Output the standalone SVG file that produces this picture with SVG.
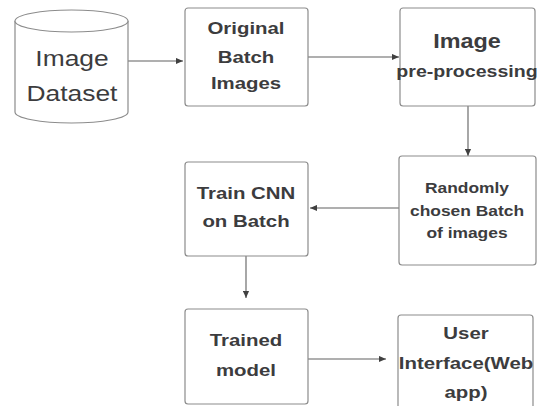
<svg xmlns="http://www.w3.org/2000/svg" width="540" height="406" viewBox="0 0 540 406">
  <style>
    .box { fill: #ffffff; stroke: #8c8c8c; stroke-width: 1.2; }
    .wire { fill: none; stroke: #606060; stroke-width: 1.1; }
    .lbl { font-family: "Liberation Sans", Arial, sans-serif; font-weight: bold; fill: #3c3c3e; text-anchor: middle; }
    .reg { font-family: "Liberation Sans", Arial, sans-serif; fill: #3c3c3e; text-anchor: middle; }
  </style>
  <defs>
    <marker id="arrow" viewBox="0 0 8 8" refX="8" refY="4" markerWidth="7" markerHeight="7" markerUnits="userSpaceOnUse" orient="auto">
      <path d="M0,0.5 L8,4 L0,7.5 Z" fill="#404040"/>
    </marker>
  </defs>
  <rect width="540" height="406" fill="#ffffff"/>

  <!-- connectors -->
  <g id="connectors">
    <line class="wire" x1="128" y1="61" x2="183" y2="61" marker-end="url(#arrow)"/>
    <line class="wire" x1="308" y1="57" x2="399" y2="57" marker-end="url(#arrow)"/>
    <line class="wire" x1="468" y1="106" x2="468" y2="156" marker-end="url(#arrow)"/>
    <line class="wire" x1="399" y1="208" x2="310" y2="208" marker-end="url(#arrow)"/>
    <line class="wire" x1="246" y1="256" x2="246" y2="298" marker-end="url(#arrow)"/>
    <line class="wire" x1="308" y1="359" x2="386" y2="359" marker-end="url(#arrow)"/>
  </g>

  <!-- cylinder: data store -->
  <g id="image-dataset">
    <path class="box" d="M15,21 L15,112 A56.5,11 0 0 0 128,112 L128,21"/>
    <ellipse class="box" cx="71.5" cy="21" rx="56.5" ry="11"/>
    <text class="reg" font-size="22" transform="translate(72,66) scale(1.2 1)">Image</text>
    <text class="reg" font-size="22" transform="translate(72,101) scale(1.2 1)">Dataset</text>
  </g>

  <g id="original-batch">
    <rect class="box" x="185" y="8" width="123" height="98" rx="3"/>
    <text class="lbl" font-size="17" transform="translate(246,34) scale(1.2 1)">Original</text>
    <text class="lbl" font-size="17" transform="translate(246,63) scale(1.2 1)">Batch</text>
    <text class="lbl" font-size="17" transform="translate(246,89) scale(1.2 1)">Images</text>
  </g>

  <g id="preprocessing">
    <rect class="box" x="400" y="8" width="135" height="98" rx="3"/>
    <text class="lbl" font-size="19.5" transform="translate(467,48) scale(1.2 1)">Image</text>
    <text class="lbl" font-size="16.3" transform="translate(467,77) scale(1.2 1)">pre-processing</text>
  </g>

  <g id="random-batch">
    <rect class="box" x="399" y="156" width="137" height="109" rx="3"/>
    <text class="lbl" font-size="14.5" transform="translate(467,193) scale(1.2 1)">Randomly</text>
    <text class="lbl" font-size="14.5" transform="translate(467,216) scale(1.2 1)">chosen Batch</text>
    <text class="lbl" font-size="14.5" transform="translate(467,238) scale(1.2 1)">of images</text>
  </g>

  <g id="train-cnn">
    <rect class="box" x="185" y="162" width="123" height="94" rx="3"/>
    <text class="lbl" font-size="17" transform="translate(246,199) scale(1.2 1)">Train CNN</text>
    <text class="lbl" font-size="17" transform="translate(246,227) scale(1.2 1)">on Batch</text>
  </g>

  <g id="trained-model">
    <rect class="box" x="185" y="309" width="123" height="95" rx="3"/>
    <text class="lbl" font-size="17" transform="translate(246,346) scale(1.2 1)">Trained</text>
    <text class="lbl" font-size="17" transform="translate(246,376) scale(1.2 1)">model</text>
  </g>

  <g id="user-interface">
    <rect class="box" x="398" y="315" width="135" height="95" rx="3"/>
    <text class="lbl" font-size="17" transform="translate(466,339) scale(1.2 1)">User</text>
    <text class="lbl" font-size="17" transform="translate(466,369) scale(1.2 1)">Interface(Web</text>
    <text class="lbl" font-size="17" transform="translate(466,398) scale(1.2 1)">app)</text>
  </g>
</svg>
